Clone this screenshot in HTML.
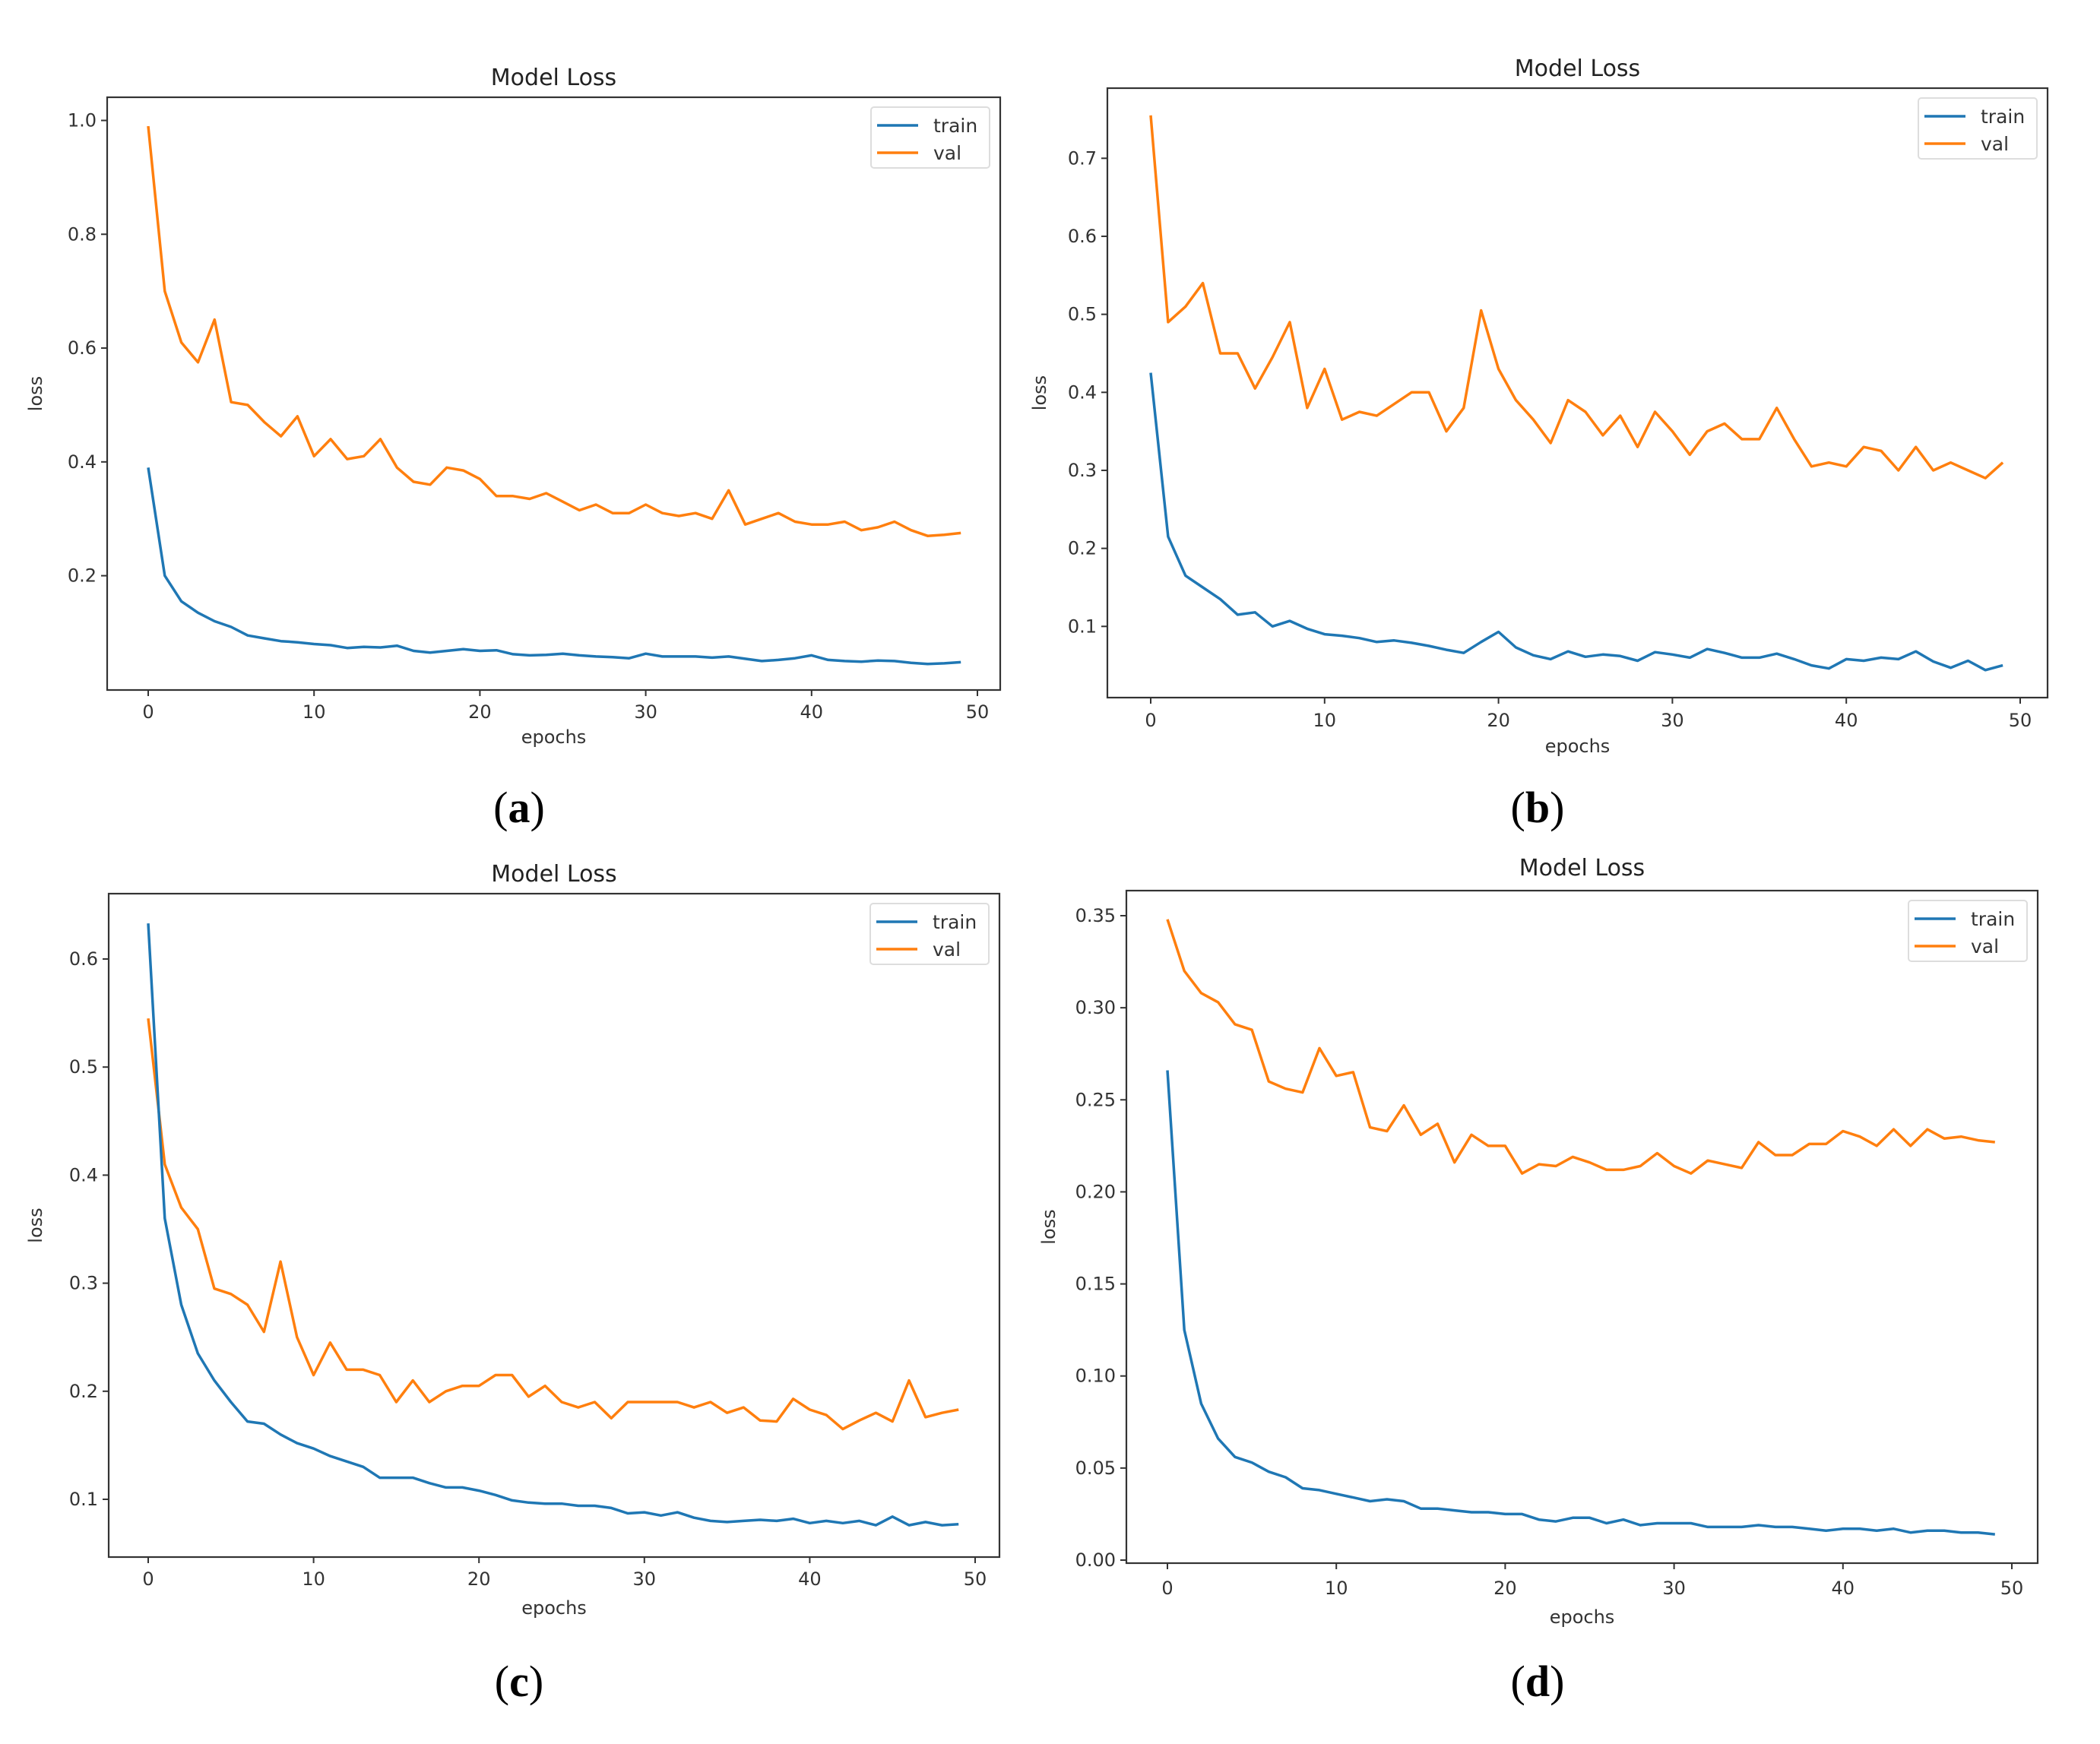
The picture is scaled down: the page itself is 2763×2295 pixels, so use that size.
<!DOCTYPE html>
<html><head><meta charset="utf-8">
<style>
html,body{margin:0;padding:0;background:#fff;}
svg{display:block;font-family:"DejaVu Sans","Liberation Sans",sans-serif;}
</style></head>
<body>
<svg id="fig" width="2763" height="2295" viewBox="0 0 2763 2295" xmlns="http://www.w3.org/2000/svg"></svg>
<script>
const epochs = Array.from({length:50},(_,i)=>i);
const xTicks = [0,10,20,30,40,50];
const aTrain = [0.39,0.20,0.155,0.135,0.12,0.11,0.095,0.09,0.085,0.083,0.08,0.078,0.073,0.075,0.074,0.077,0.068,0.065,0.068,0.071,0.068,0.069,0.062,0.06,0.061,0.063,0.06,0.058,0.057,0.055,0.063,0.058,0.058,0.058,0.056,0.058,0.054,0.05,0.052,0.055,0.06,0.052,0.05,0.049,0.051,0.05,0.047,0.045,0.046,0.048];
const aVal = [0.99,0.70,0.61,0.575,0.65,0.505,0.50,0.47,0.445,0.48,0.41,0.44,0.405,0.41,0.44,0.39,0.365,0.36,0.39,0.385,0.37,0.34,0.34,0.335,0.345,0.33,0.315,0.325,0.31,0.31,0.325,0.31,0.305,0.31,0.30,0.35,0.29,0.30,0.31,0.295,0.29,0.29,0.295,0.28,0.285,0.295,0.28,0.27,0.272,0.275];
const aYTicks = [0.2,0.4,0.6,0.8,1.0];
const aYLabels = ["0.2","0.4","0.6","0.8","1.0"];
const bTrain = [0.425,0.215,0.165,0.15,0.135,0.115,0.118,0.10,0.107,0.097,0.09,0.088,0.085,0.08,0.082,0.079,0.075,0.07,0.066,0.08,0.093,0.073,0.063,0.058,0.068,0.061,0.064,0.062,0.056,0.067,0.064,0.06,0.071,0.066,0.06,0.06,0.065,0.058,0.05,0.046,0.058,0.056,0.06,0.058,0.068,0.055,0.047,0.056,0.044,0.05];
const bVal = [0.755,0.49,0.51,0.54,0.45,0.45,0.405,0.445,0.49,0.38,0.43,0.365,0.375,0.37,0.385,0.40,0.40,0.35,0.38,0.505,0.43,0.39,0.365,0.335,0.39,0.375,0.345,0.37,0.33,0.375,0.35,0.32,0.35,0.36,0.34,0.34,0.38,0.34,0.305,0.31,0.305,0.33,0.325,0.30,0.33,0.30,0.31,0.30,0.29,0.31];
const bYTicks = [0.1,0.2,0.3,0.4,0.5,0.6,0.7];
const bYLabels = ["0.1","0.2","0.3","0.4","0.5","0.6","0.7"];
const cTrain = [0.633,0.36,0.28,0.235,0.21,0.19,0.172,0.17,0.16,0.152,0.147,0.14,0.135,0.13,0.12,0.12,0.12,0.115,0.111,0.111,0.108,0.104,0.099,0.097,0.096,0.096,0.094,0.094,0.092,0.087,0.088,0.085,0.088,0.083,0.08,0.079,0.08,0.081,0.08,0.082,0.078,0.08,0.078,0.08,0.076,0.084,0.076,0.079,0.076,0.077];
const cVal = [0.545,0.41,0.37,0.35,0.295,0.29,0.28,0.255,0.32,0.25,0.215,0.245,0.22,0.22,0.215,0.19,0.21,0.19,0.2,0.205,0.205,0.215,0.215,0.195,0.205,0.19,0.185,0.19,0.175,0.19,0.19,0.19,0.19,0.185,0.19,0.18,0.185,0.173,0.172,0.193,0.183,0.178,0.165,0.173,0.18,0.172,0.21,0.176,0.18,0.183];
const cYTicks = [0.1,0.2,0.3,0.4,0.5,0.6];
const cYLabels = ["0.1","0.2","0.3","0.4","0.5","0.6"];
const dTrain = [0.266,0.125,0.085,0.066,0.056,0.053,0.048,0.045,0.039,0.038,0.036,0.034,0.032,0.033,0.032,0.028,0.028,0.027,0.026,0.026,0.025,0.025,0.022,0.021,0.023,0.023,0.02,0.022,0.019,0.02,0.02,0.02,0.018,0.018,0.018,0.019,0.018,0.018,0.017,0.016,0.017,0.017,0.016,0.017,0.015,0.016,0.016,0.015,0.015,0.014];
const dVal = [0.348,0.32,0.308,0.303,0.291,0.288,0.26,0.256,0.254,0.278,0.263,0.265,0.235,0.233,0.247,0.231,0.237,0.216,0.231,0.225,0.225,0.21,0.215,0.214,0.219,0.216,0.212,0.212,0.214,0.221,0.214,0.21,0.217,0.215,0.213,0.227,0.22,0.22,0.226,0.226,0.233,0.23,0.225,0.234,0.225,0.234,0.229,0.23,0.228,0.227];
const dYTicks = [0,0.05,0.10,0.15,0.20,0.25,0.30,0.35];
const dYLabels = ["0.00","0.05","0.10","0.15","0.20","0.25","0.30","0.35"];

const NS='http://www.w3.org/2000/svg';
const svg=document.getElementById('fig');
function mk(tag,attrs,parent){const e=document.createElementNS(NS,tag);for(const k in attrs)e.setAttribute(k,attrs[k]);(parent||svg).appendChild(e);return e;}

const panels=[
 {id:'a',L:141,R:1316,T:128,B:908,x0:195,x50:1286,yv1:0.2,yp1:757.6,yv2:1.0,yp2:158.5,train:aTrain,val:aVal,ticks:aYTicks,labels:aYLabels,titleY:112,tickY:945,epY:978,labY:1082,lossX:55,capX:683},
 {id:'b',L:1457,R:2694,T:116,B:918,x0:1514,x50:2658,yv1:0.1,yp1:824.3,yv2:0.7,yp2:208.3,train:bTrain,val:bVal,ticks:bYTicks,labels:bYLabels,titleY:100,tickY:956,epY:990,labY:1082,lossX:1376,capX:2023},
 {id:'c',L:143,R:1315,T:1176,B:2049,x0:195,x50:1283,yv1:0.1,yp1:1973,yv2:0.6,yp2:1262,train:cTrain,val:cVal,ticks:cYTicks,labels:cYLabels,titleY:1160,tickY:2086,epY:2124,labY:2232,lossX:55,capX:683},
 {id:'d',L:1482,R:2681,T:1172,B:2057,x0:1536,x50:2647,yv1:0,yp1:2053,yv2:0.35,yp2:1205,train:dTrain,val:dVal,ticks:dYTicks,labels:dYLabels,titleY:1152,tickY:2098,epY:2136,labY:2232,lossX:1388,capX:2023}
];

panels.forEach(p=>{
 const g=mk('g',{});
 
 
 const xs=v=>p.x0+(p.x50-p.x0)*v/50;
 const ys=v=>p.yp1+(p.yp2-p.yp1)*(v-p.yv1)/(p.yv2-p.yv1);
 const t=mk('text',{x:(p.L+p.R)/2,y:p.titleY,'text-anchor':'middle','font-size':30,fill:'#222'},g);
 t.textContent='Model Loss';
 
 
 [[p.val,'#ff7f0e','val-line'],[p.train,'#1f77b4','train-line']].forEach(s=>{
  const d=s[0].map((v,i)=>(i?'L':'M')+xs(epochs[i]).toFixed(1)+','+ys(v).toFixed(1)).join(' ');
  const pl=mk('path',{d:d,fill:'none',stroke:s[1],'stroke-width':3.5,'stroke-linejoin':'round'},g);
  
  
 });
 const fr=mk('rect',{x:p.L,y:p.T,width:p.R-p.L,height:p.B-p.T,fill:'none',stroke:'#333','stroke-width':2.2},g);
 
 
 xTicks.forEach(v=>{
  mk('line',{x1:xs(v),x2:xs(v),y1:p.B,y2:p.B+8,stroke:'#333','stroke-width':2},g);
  const tx=mk('text',{x:xs(v),y:p.tickY,'text-anchor':'middle','font-size':24,fill:'#333'},g);
  tx.textContent=v;
  
  
 });
 p.ticks.forEach((v,i)=>{
  mk('line',{x1:p.L-8,x2:p.L,y1:ys(v),y2:ys(v),stroke:'#333','stroke-width':2},g);
  const ty=mk('text',{x:p.L-14,y:ys(v)+8,'text-anchor':'end','font-size':24,fill:'#333'},g);
  ty.textContent=p.labels[i];
  
  
 });
 const ex=mk('text',{x:(p.L+p.R)/2,y:p.epY,'text-anchor':'middle','font-size':24,fill:'#333'},g);
 ex.textContent='epochs';
 
 
 const ly=(p.T+p.B)/2;
 const lo=mk('text',{x:p.lossX,y:ly,'text-anchor':'middle','font-size':24,fill:'#333',transform:'rotate(-90 '+p.lossX+' '+ly+')'},g);
 lo.textContent='loss';
 
 
 const lg=mk('g',{},g);
 
 
 const bx=p.R-170, by=p.T+13;
 mk('rect',{x:bx,y:by,width:156,height:80,rx:4,fill:'#fff',stroke:'#ddd','stroke-width':2},lg);
 [['train','#1f77b4',by+24],['val','#ff7f0e',by+60]].forEach(e=>{
  const le=mk('g',{},lg);
  
  
  mk('line',{x1:bx+8,x2:bx+62,y1:e[2],y2:e[2],stroke:e[1],'stroke-width':3.5},le);
  const lt=mk('text',{x:bx+82,y:e[2]+9,'font-size':25,fill:'#333'},le);
  lt.textContent=e[0];
 });
 const cap=mk('text',{x:p.capX,y:p.labY,'text-anchor':'middle','font-size':58,'font-family':'Liberation Serif, serif',fill:'#000'},g);
 cap.innerHTML='(<tspan font-weight="bold">'+p.id+'</tspan>)';
 
 
});
</script>
</body></html>
